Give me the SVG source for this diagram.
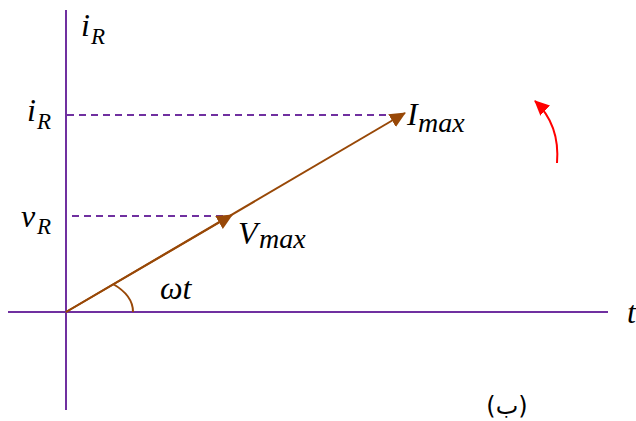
<svg xmlns="http://www.w3.org/2000/svg" width="636" height="421" viewBox="0 0 636 421">
<style>
.axis{stroke:#7030A0;stroke-width:2;fill:none}
.dash{stroke:#7030A0;stroke-width:2;stroke-dasharray:7 5;fill:none}
.vec{stroke:#984807;stroke-width:2;fill:none}
.m{font-family:"Liberation Serif","DejaVu Serif",serif;font-style:italic;fill:#000}
.big{font-size:32px}
.sub{font-size:23px}
.ar{font-family:"DejaVu Sans","Noto Sans",sans-serif;font-size:24px;fill:#000}
</style>
<defs>
<marker id="ah" markerUnits="userSpaceOnUse" markerWidth="18" markerHeight="16" refX="15" refY="7.5" orient="auto">
<path d="M0,0 L16,7.5 L0,15 Z" fill="#984807"/>
</marker>
<marker id="rh" markerUnits="userSpaceOnUse" markerWidth="18" markerHeight="16" refX="14" refY="7" orient="auto">
<path d="M0,0 L15,7 L0,14 Z" fill="#FF0000"/>
</marker>
</defs>
<g id="axes">
<line class="axis" x1="66" y1="10" x2="66" y2="410"/>
<line class="axis" x1="8" y1="312" x2="608" y2="312"/>
</g>
<g id="connectors">
<line class="dash" x1="67" y1="115" x2="400" y2="115"/>
<line class="dash" x1="72" y1="216" x2="230" y2="216"/>
<line class="vec" x1="66" y1="312" x2="405" y2="113" marker-end="url(#ah)"/>
<line class="vec" x1="66" y1="312" x2="232" y2="215" marker-end="url(#ah)"/>
<path class="vec" d="M113,284 A67,39 0 0 1 133,312"/>
<path d="M557,163 C559,138 553,118 535,101" stroke="#FF0000" stroke-width="2" fill="none" marker-end="url(#rh)"/>
</g>
<g id="label-iR-top"><text class="m big" x="81" y="36">i</text><text class="m sub" x="91" y="44">R</text></g>
<g id="label-iR"><text class="m big" x="27" y="121">i</text><text class="m sub" x="37" y="129">R</text></g>
<g id="label-vR"><text class="m big" x="21" y="227">v</text><text class="m sub" x="37" y="234">R</text></g>
<g id="label-Vmax"><text class="m big" x="238" y="244">V</text><text class="m big" x="259" y="248" style="font-size:28px">max</text></g>
<g id="label-Imax"><text class="m big" x="407" y="125">I</text><text class="m big" x="418" y="132" style="font-size:28px">max</text></g>
<g id="label-wt"><text class="m big" x="160" y="299">ωt</text></g>
<g id="label-t"><text class="m big" x="627" y="323">t</text></g>
<g id="label-b"><text class="ar" x="507" y="414" text-anchor="middle" direction="ltr" unicode-bidi="bidi-override">(ب)</text></g>
</svg>
